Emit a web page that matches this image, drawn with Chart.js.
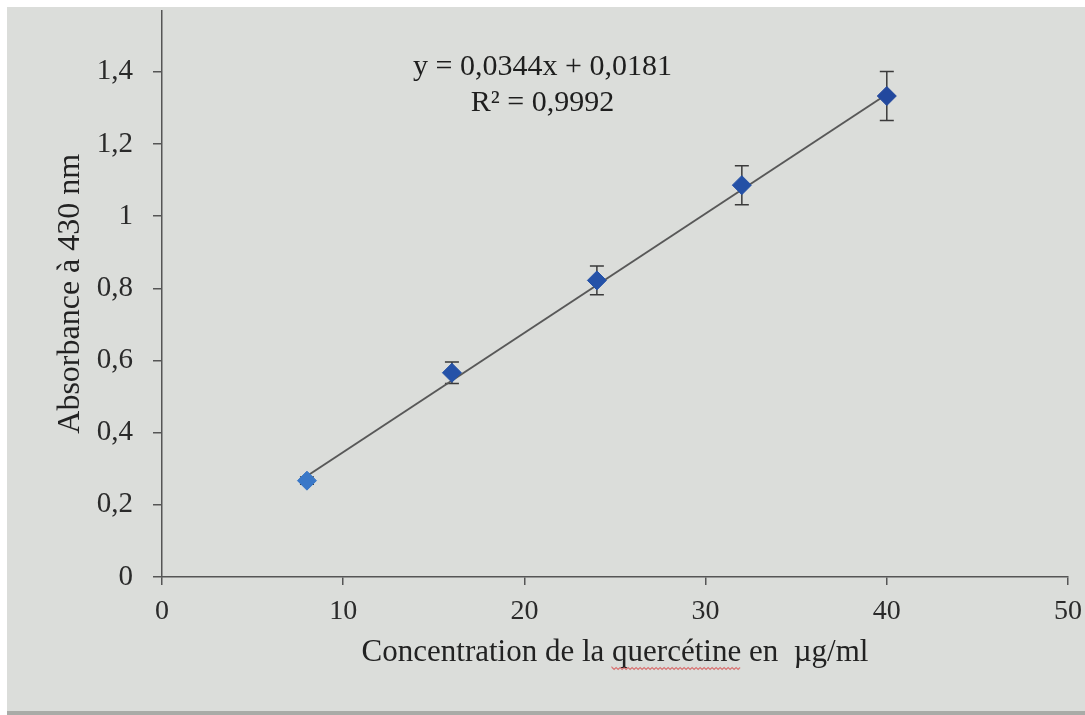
<!DOCTYPE html>
<html>
<head>
<meta charset="utf-8">
<script src="https://cdn.jsdelivr.net/npm/chart.js@4.4.0/dist/chart.umd.min.js"></script>
<style>
  html, body { margin: 0; padding: 0; background: #ffffff; }
  #wrap { width: 1085px; height: 715px; position: relative; }
</style>
</head>
<body>
<div id="wrap"><canvas id="chart"></canvas></div>
<script>
// concentration (µg/ml) and absorbance at 430 nm
var concentration = [8, 16, 24, 32, 40];
var absorbance = [0.267, 0.566, 0.822, 1.086, 1.333];
var errorBars = [0.01, 0.03, 0.04, 0.054, 0.068];
var pointColors = ['#3a78c8', '#2552a8', '#2552a8', '#2450a6', '#22489e'];

// linear trendline as drawn on the picture
var trendX = [8, 40];
var trendY = [0.28, 1.338];
var equationLines = ['y = 0,0344x + 0,0181', 'R² = 0,9992'];

var xTitle = 'Concentration de la quercétine en  µg/ml';
var serif = '"Liberation Serif", "Times New Roman", serif';

function fmt(v) {
    return String(Number(v.toFixed(1))).replace('.', ',');
}

var background = {
    id: 'background',
    beforeDraw: function (chart) {
        var ctx = chart.ctx;
        ctx.save();
        ctx.fillStyle = '#ffffff';
        ctx.fillRect(0, 0, chart.width, chart.height);
        ctx.fillStyle = '#dbddda';
        ctx.fillRect(7, 7, chart.width - 7, chart.height - 10);
        ctx.fillStyle = '#a9aba7';
        ctx.fillRect(7, chart.height - 4, chart.width - 7, 4);
        ctx.restore();
    }
};

var errorPlugin = {
    id: 'errorPlugin',
    beforeDatasetsDraw: function (chart) {
        var ctx = chart.ctx;
        var xs = chart.scales.x, ys = chart.scales.y;
        ctx.save();
        ctx.strokeStyle = '#3a3a3a';
        ctx.lineWidth = 1.5;
        for (var i = 0; i < concentration.length; i++) {
            var px = xs.getPixelForValue(concentration[i]);
            var top = ys.getPixelForValue(absorbance[i] + errorBars[i]);
            var bot = ys.getPixelForValue(absorbance[i] - errorBars[i]);
            ctx.beginPath();
            ctx.moveTo(px, top); ctx.lineTo(px, bot);
            ctx.moveTo(px - 7, top); ctx.lineTo(px + 7, top);
            ctx.moveTo(px - 7, bot); ctx.lineTo(px + 7, bot);
            ctx.stroke();
        }
        ctx.restore();
    }
};

var equationPlugin = {
    id: 'equationPlugin',
    afterDatasetsDraw: function (chart) {
        var ctx = chart.ctx;
        var cx = chart.scales.x.getPixelForValue(21);
        var cy = chart.scales.y.getPixelForValue(1.39);
        ctx.save();
        ctx.font = '30px ' + serif;
        ctx.fillStyle = '#1e1e1e';
        ctx.textAlign = 'center';
        ctx.textBaseline = 'alphabetic';
        ctx.fillText(equationLines[0], cx, cy);
        ctx.fillText(equationLines[1], cx, cy + 36);
        ctx.restore();
    }
};

// red spell-check squiggle under "quercétine" in the axis title
var squiggle = {
    id: 'squiggle',
    afterDraw: function (chart) {
        var ctx = chart.ctx;
        var area = chart.chartArea;
        ctx.save();
        ctx.font = '31px ' + serif;
        var full = ctx.measureText(xTitle).width;
        var pre = ctx.measureText('Concentration de la ').width;
        var word = ctx.measureText('quercétine').width;
        var x0 = (area.left + area.right) / 2 - full / 2 + pre;
        var y0 = 668;
        ctx.strokeStyle = 'rgba(215,80,80,0.75)';
        ctx.lineWidth = 1.2;
        ctx.beginPath();
        ctx.moveTo(x0, y0);
        for (var x = x0; x <= x0 + word; x += 2) {
            ctx.lineTo(x, y0 + ((Math.round((x - x0) / 2) % 2) ? 1.5 : -0.5));
        }
        ctx.stroke();
        ctx.restore();
    }
};

var ctx = document.getElementById('chart');
var chart = new Chart(ctx, {
    type: 'scatter',
    data: {
        datasets: [
            {
                label: 'Absorbance',
                data: concentration.map(function (c, i) { return { x: c, y: absorbance[i] }; }),
                pointStyle: 'rectRot',
                pointRadius: 9.5,
                backgroundColor: pointColors,
                borderColor: pointColors,
                borderWidth: 1,
                order: 0
            },
            {
                label: 'Linéaire',
                data: trendX.map(function (c, i) { return { x: c, y: trendY[i] }; }),
                showLine: true,
                pointRadius: 0,
                borderColor: '#585858',
                borderWidth: 2,
                order: 1
            }
        ]
    },
    options: {
        responsive: true,
        maintainAspectRatio: false,
        animation: false,
        layout: { padding: { left: 0, right: 17, top: 0, bottom: 0 } },
        plugins: {
            legend: { display: false },
            tooltip: { enabled: false }
        },
        scales: {
            x: {
                type: 'linear',
                min: 0,
                max: 50,
                ticks: {
                    stepSize: 10,
                    padding: 10,
                    color: '#2a2a2a',
                    font: { family: serif, size: 28 }
                },
                grid: { drawOnChartArea: false, tickLength: 8, color: '#555555', lineWidth: 1.5 },
                border: { color: '#555555', width: 1.5 },
                title: {
                    display: true,
                    text: xTitle,
                    color: '#222222',
                    font: { family: serif, size: 31 },
                    padding: { top: 0, bottom: 44 }
                },
                afterFit: function (scale) {
                    scale.height = 138;
                    scale.paddingLeft = 0;
                    scale.paddingRight = 0;
                }
            },
            y: {
                min: 0,
                max: 1.57,
                ticks: {
                    stepSize: 0.2,
                    includeBounds: false,
                    padding: 20,
                    color: '#2a2a2a',
                    font: { family: serif, size: 29 },
                    callback: function (v) { return fmt(v); }
                },
                grid: { drawOnChartArea: false, tickLength: 9, color: '#555555', lineWidth: 1.5 },
                border: { color: '#555555', width: 1.5 },
                title: {
                    display: true,
                    text: 'Absorbance à 430 nm',
                    color: '#222222',
                    font: { family: serif, size: 32 },
                    padding: { top: 51, bottom: 0 }
                },
                afterFit: function (scale) {
                    scale.width = 162;
                    scale.paddingTop = 0;
                    scale.paddingBottom = 0;
                }
            }
        }
    },
    plugins: [background, errorPlugin, equationPlugin, squiggle]
});
</script>
</body>
</html>
